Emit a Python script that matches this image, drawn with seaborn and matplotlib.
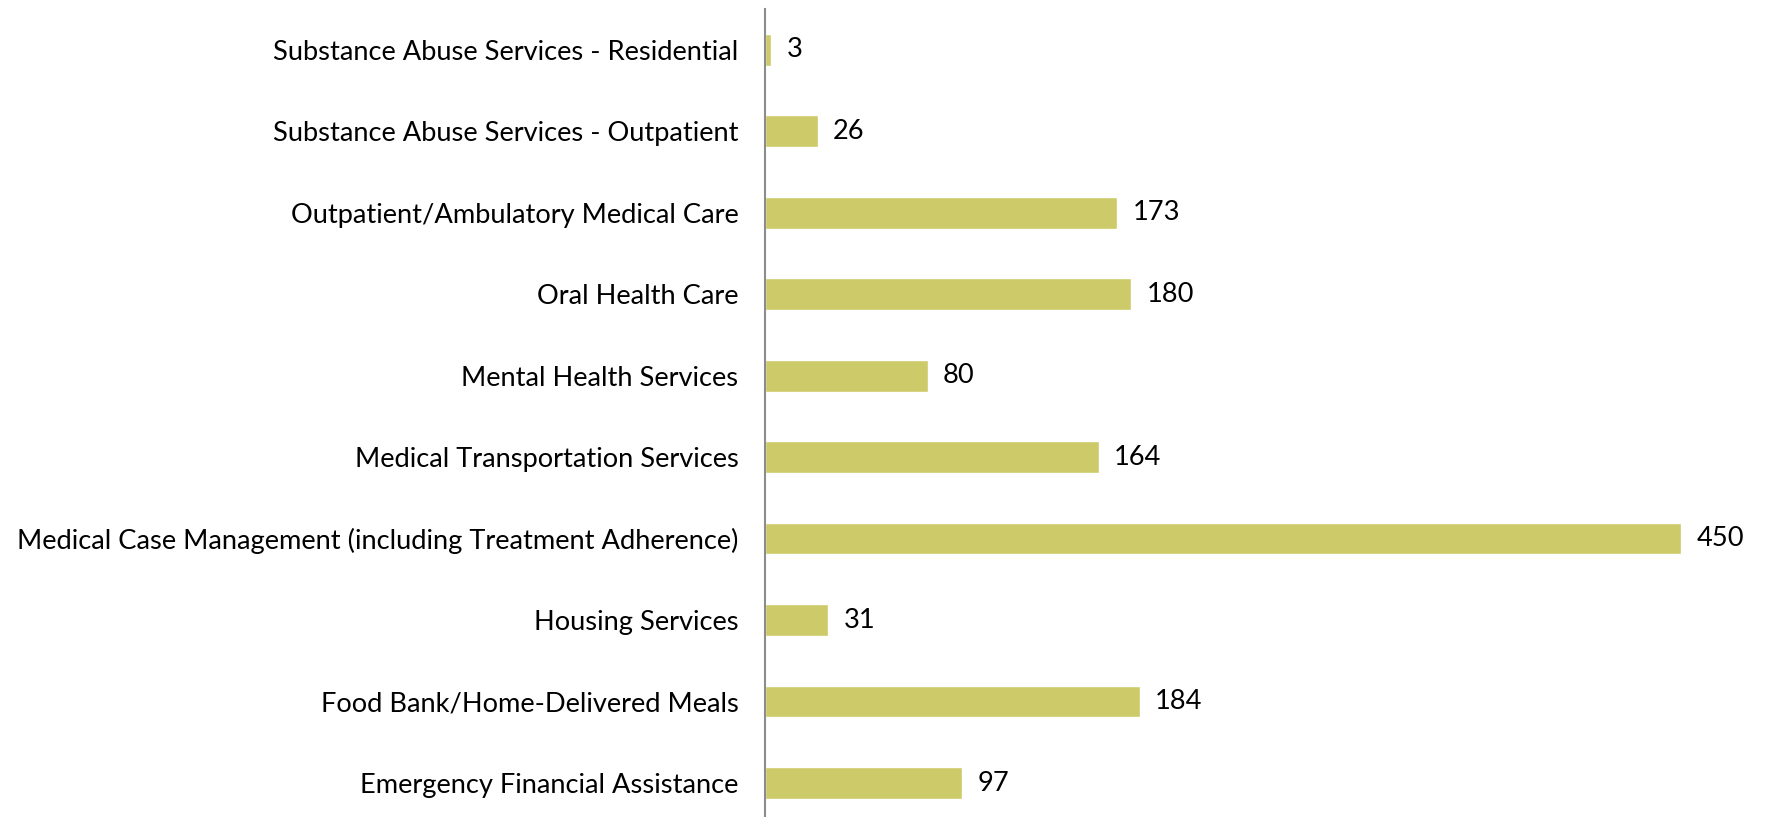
import matplotlib
matplotlib.use("Agg")
import matplotlib.pyplot as plt
import seaborn as sns

categories = [
    "Substance Abuse Services - Residential",
    "Substance Abuse Services - Outpatient",
    "Outpatient/Ambulatory Medical Care",
    "Oral Health Care",
    "Mental Health Services",
    "Medical Transportation Services",
    "Medical Case Management (including Treatment Adherence)",
    "Housing Services",
    "Food Bank/Home-Delivered Meals",
    "Emergency Financial Assistance",
]
values = [3, 26, 173, 180, 80, 164, 450, 31, 184, 97]

sns.set_theme(style="white")
plt.rcParams["font.family"] = ["Lato", "DejaVu Sans"]

W, H = 1766, 817
fig = plt.figure(figsize=(W / 100, H / 100), dpi=100)
ax = fig.add_axes([765 / W, 0, (1681 - 765) / W, (817 - 9) / H])

sns.barplot(x=values, y=categories, orient="h", color="#CDCB69",
            saturation=1, width=0.39, ax=ax)

ax.set_xlim(0, 450)
ax.set_ylim(9.417, -0.5)
for s in ["top", "right", "bottom"]:
    ax.spines[s].set_visible(False)
ax.spines["left"].set_color("#8c8c8c")
ax.spines["left"].set_linewidth(1.5)
ax.set_xticks([])
ax.tick_params(axis="y", length=0, pad=19, labelsize=19.6, labelcolor="black")
ax.set_xlabel("")
ax.set_ylabel("")

for c in ax.containers:
    ax.bar_label(c, padding=11, fontsize=19.6, color="black", clip_on=False)

fig.savefig("out.png", dpi=100)
